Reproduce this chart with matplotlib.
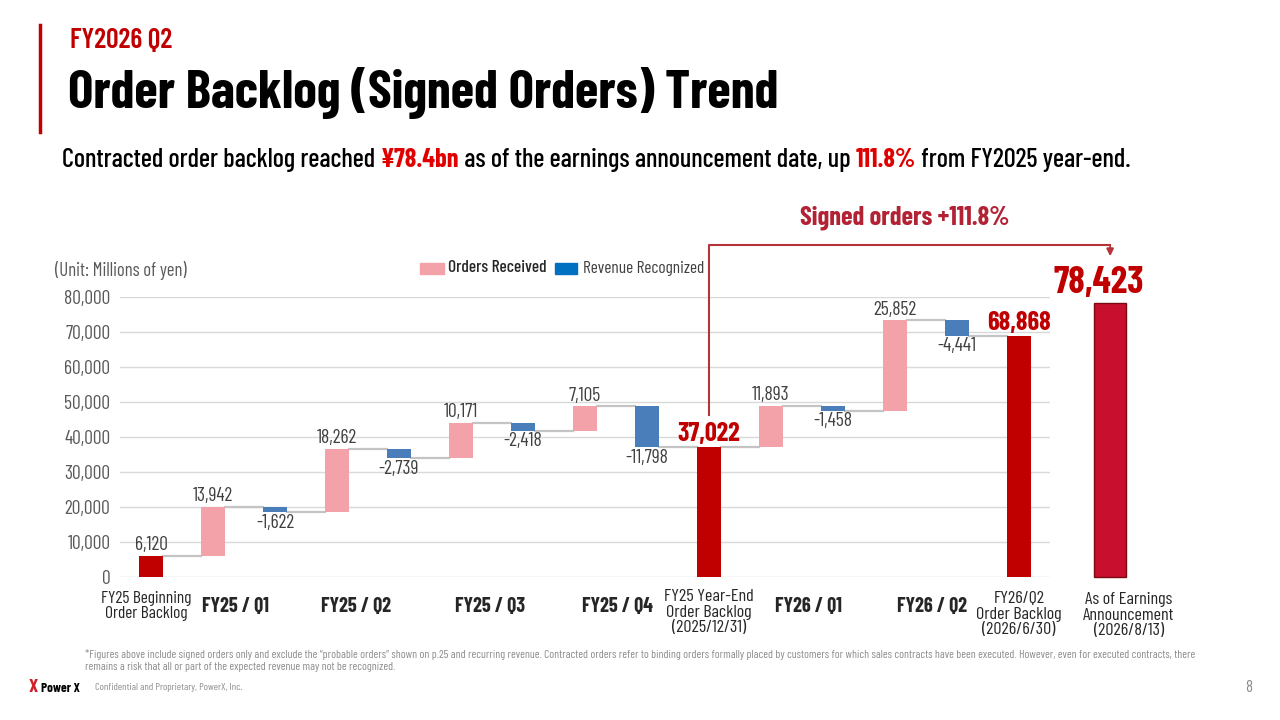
import matplotlib.pyplot as plt
from matplotlib.patches import Rectangle

plt.rcParams['font.family'] = ['Barlow Condensed', 'DejaVu Sans']

# --- DATOS ---
inicio_fy25 = 6120
pedidos = [13942, 18262, 10171, 7105, 11893, 25852]
ingresos = [-1622, -2739, -2418, -11798, -1458, -4441]
cierre_fy25 = 37022
cierre_fy26q2 = 68868
anuncio = 78423

etiquetas_trim = ["FY25 / Q1", "FY25 / Q2", "FY25 / Q3", "FY25 / Q4", "FY26 / Q1", "FY26 / Q2"]
etiquetas_total = ["FY25 Beginning\nOrder Backlog", "FY25 Year-End\nOrder Backlog\n(2025/12/31)",
                   "FY26/Q2\nOrder Backlog\n(2026/6/30)"]
etiqueta_anuncio = "As of Earnings\nAnnouncement\n(2026/8/13)"
yticks = [0, 10000, 20000, 30000, 40000, 50000, 60000, 70000, 80000]

ROJO = '#C00000'
ROSA = '#F2A2A8'
AZUL = '#4A7EBB'
GRIS = '#595959'
TEXTO = '#262626'

fig = plt.figure(figsize=(12.8, 7.2), dpi=100)
ax = fig.add_axes([120 / 1280, 1 - 577 / 720, 930 / 1280, 280 / 720])


def py(px):
    # pixel vertical de la figura -> valor en datos
    return (577 - px) / 3.5 * 1000


# construir la secuencia de la cascada
pasos = [('total', inicio_fy25)]
for o, r in zip(pedidos[:4], ingresos[:4]):
    pasos += [('orden', o), ('ingreso', r)]
pasos.append(('total', cierre_fy25))
for o, r in zip(pedidos[4:], ingresos[4:]):
    pasos += [('orden', o), ('ingreso', r)]
pasos.append(('total', cierre_fy26q2))

ancho = 0.39
nivel = 0
pos_total = []
for i, (tipo, v) in enumerate(pasos):
    if tipo == 'total':
        base, alto, color = 0, v, ROJO
        nivel = v
        pos_total.append(i)
    else:
        base = nivel if v > 0 else nivel + v
        alto, color = abs(v), ROSA if v > 0 else AZUL
        nivel = nivel + v
    ax.bar(i, alto, bottom=base, width=ancho, color=color, zorder=3)
    # conector
    if i < len(pasos) - 1:
        ax.plot([i + ancho / 2, i + 1 - ancho / 2], [nivel, nivel], color='#C4C4C4', lw=1.6, zorder=2)
    # etiquetas de valor
    if tipo == 'total' and i > 0:
        ax.annotate(f"{v:,}", (i, v), xytext=(0, 1), textcoords='offset points', ha='center',
                    va='bottom', color=ROJO, fontsize=19, fontweight='bold')
    elif tipo == 'total' or v > 0:
        ax.annotate(f"{v:,}", (i, base + alto), xytext=(0, 1), textcoords='offset points', ha='center',
                    va='bottom', color='#404040', fontsize=14)
    else:
        ax.annotate(f"{v:,}", (i, base), xytext=(0, -1), textcoords='offset points', ha='center',
                    va='top', color='#404040', fontsize=14)

# barra del anuncio (fuera de la rejilla)
x_anuncio = 15.47
ax.bar(x_anuncio, anuncio, width=0.52, color='#C8102E', edgecolor='#7A0A14', lw=1, zorder=3, clip_on=False)
ax.annotate(f"{anuncio:,}", (x_anuncio - 0.18, anuncio), xytext=(0, 2), textcoords='offset points',
            ha='center', va='bottom', color=ROJO, fontsize=27, fontweight='bold', annotation_clip=False)

# rejilla manual
for y in yticks:
    ax.plot([-0.5, 14.5], [y, y], color='#D9D9D9', lw=1, zorder=1)

ax.set_xlim(-0.5, 14.5)
ax.set_ylim(0, 80000)
for s in ax.spines.values():
    s.set_visible(False)
ax.set_yticks(yticks)
ax.set_yticklabels([f"{y:,}" for y in yticks], color=GRIS, fontsize=14)
ax.tick_params(axis='y', length=0, pad=7)
ax.set_xticks([])

# etiquetas del eje x (trimestres entre sus dos barras)
x_trim = [1.37, 3.31, 5.47, 7.52, 10.6, 12.6]
for x, lbl in zip(x_trim, etiquetas_trim):
    ax.text(x, py(606), lbl, ha='center', va='center', fontsize=14.5, fontweight='bold',
            color=TEXTO, clip_on=False)
for i, lbl, yc in zip(pos_total, etiquetas_total, [606, 612, 614]):
    ax.text(i - (0.08 if i == 0 else 0), py(yc), lbl, ha='center', va='center',
            fontsize=12.5 if i == 0 else 13, color=TEXTO, linespacing=1.05, clip_on=False)
ax.text(x_anuncio + 0.3, py(615), etiqueta_anuncio, ha='center', va='center', fontsize=13,
        color=TEXTO, linespacing=1.05, clip_on=False)

# flecha de "Signed orders"
LINEA = '#B5343A'
y_top = py(245)
ax.plot([9, 9, x_anuncio], [py(415), y_top, y_top], color=LINEA, lw=1.5, clip_on=False)
ax.annotate('', xy=(x_anuncio, py(259)), xytext=(x_anuncio, y_top + 250),
            arrowprops=dict(arrowstyle='-|>', color=LINEA, lw=1.5, mutation_scale=10),
            annotation_clip=False)
fig.text(905 / 1280, 1 - 218 / 720, "Signed orders +111.8%", ha='center', va='center',
         color='#B22234', fontsize=19, fontweight='bold')

# leyenda
fig.patches.append(Rectangle((420 / 1280, 1 - 274 / 720), 24 / 1280, 11 / 720, color=ROSA,
                             transform=fig.transFigure))
fig.text(448 / 1280, 1 - 268 / 720, "Orders Received", va='center', fontsize=12.5, color=TEXTO,
         fontweight='medium')
fig.patches.append(Rectangle((555 / 1280, 1 - 274 / 720), 22 / 1280, 11 / 720, color='#0070C0',
                             transform=fig.transFigure))
fig.text(583 / 1280, 1 - 268 / 720, "Revenue Recognized", va='center', fontsize=12.5, color='#404040')
fig.text(55 / 1280, 1 - 270 / 720, "(Unit: Millions of yen)", va='center', fontsize=13.5, color=GRIS)

# cabecera
fig.add_artist(plt.Line2D([40 / 1280, 40 / 1280], [1 - 25 / 720, 1 - 132 / 720], color=ROJO, lw=2.5))
fig.text(70 / 1280, 1 - 40 / 720, "FY2026 Q2", va='center', fontsize=20, color=ROJO, fontweight='semibold')
fig.text(68 / 1280, 1 - 93 / 720, "Order Backlog (Signed Orders) Trend", va='center', fontsize=38.5,
         fontweight='bold', color='black')

partes = [("Contracted order backlog reached ", 'black', 'medium'), ("¥78.4bn", '#E00000', 'bold'),
          (" as of the earnings announcement date, up ", 'black', 'medium'), ("111.8%", '#E00000', 'bold'),
          (" from FY2025 year-end.", 'black', 'medium')]
t = fig.text(62 / 1280, 1 - 172 / 720, partes[0][0], fontsize=19, color=partes[0][1],
             fontweight=partes[0][2], va='bottom')
for txt, c, w in partes[1:]:
    t = fig.add_artist(plt.Annotation(txt, xy=(1, 0), xycoords=t, xytext=(0, 0), textcoords='offset points',
                                      fontsize=19, color=c, fontweight=w, va='bottom', ha='left'))

# notas al pie
NOTA = '#8C8C8C'
fig.text(85 / 1280, 1 - 654 / 720,
         "*Figures above include signed orders only and exclude the \u201cprobable orders\u201d shown on p.25 and recurring revenue. "
         "Contracted orders refer to binding orders formally placed by customers for which sales contracts have been executed. "
         "However, even for executed contracts, there", va='center', fontsize=8.4, color=NOTA)
fig.text(85 / 1280, 1 - 667 / 720, "remains a risk that all or part of the expected revenue may not be recognized.",
         va='center', fontsize=8.4, color=NOTA)
fig.text(29 / 1280, 1 - 688 / 720, "X", va='center', fontsize=14, color='#D0202A', fontweight='bold')
fig.text(41 / 1280, 1 - 688 / 720, "Power X", va='center', fontsize=9.5, color='black', fontweight='bold')
fig.text(95 / 1280, 1 - 688 / 720, "Confidential and Proprietary, PowerX, Inc.", va='center', fontsize=7.5,
         color=NOTA)
fig.text(1245 / 1280, 1 - 688 / 720, "8", va='center', fontsize=12, color=NOTA)

fig.savefig('out.png', dpi=100)
